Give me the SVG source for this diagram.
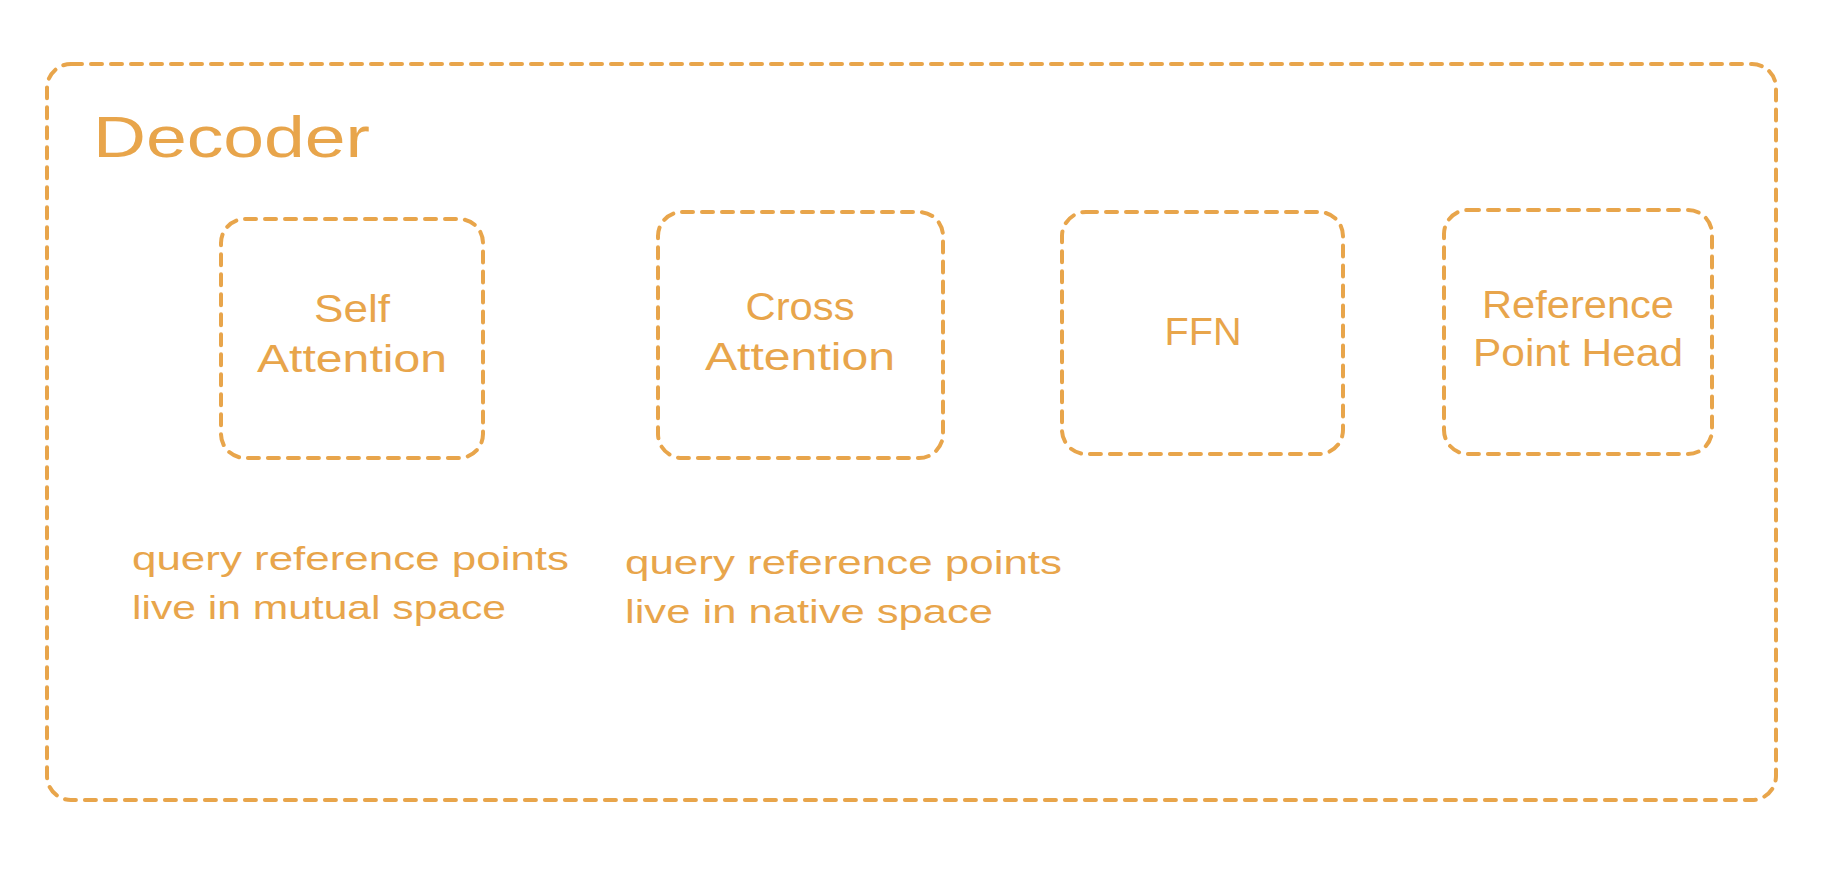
<svg xmlns="http://www.w3.org/2000/svg" width="1826" height="880" viewBox="0 0 1826 880">
<style>
.b{fill:none;stroke:#e8a54b;stroke-width:4;stroke-dasharray:11 9;stroke-linecap:round}
text{fill:#e8a54b;font-family:"Liberation Sans",sans-serif;font-size:34px}
.c{text-anchor:middle;font-size:38px}
</style>
<rect width="1826" height="880" fill="#fff"/>
<g id="decoder">
<rect class="b" x="47" y="64" width="1729" height="736" rx="24"/>
<text x="93" y="157" style="font-size:58px" textLength="277" lengthAdjust="spacingAndGlyphs">Decoder</text>
</g>
<g id="self-attention">
<rect class="b" x="221" y="219" width="262" height="239" rx="24"/>
<text class="c" x="352" y="322" textLength="76" lengthAdjust="spacingAndGlyphs">Self</text>
<text class="c" x="352" y="372" textLength="190" lengthAdjust="spacingAndGlyphs">Attention</text>
</g>
<g id="cross-attention">
<rect class="b" x="658" y="212" width="285" height="246" rx="24"/>
<text class="c" x="800" y="320" textLength="109" lengthAdjust="spacingAndGlyphs">Cross</text>
<text class="c" x="800" y="370" textLength="190" lengthAdjust="spacingAndGlyphs">Attention</text>
</g>
<g id="ffn">
<rect class="b" x="1062" y="212" width="281" height="242" rx="24"/>
<text class="c" x="1203" y="345" textLength="77" lengthAdjust="spacingAndGlyphs">FFN</text>
</g>
<g id="reference-point-head">
<rect class="b" x="1444" y="210" width="268" height="244" rx="24"/>
<text class="c" x="1578" y="318" textLength="192" lengthAdjust="spacingAndGlyphs">Reference</text>
<text class="c" x="1578" y="366" textLength="210" lengthAdjust="spacingAndGlyphs">Point Head</text>
</g>
<g id="notes">
<text x="132" y="570" textLength="437" lengthAdjust="spacingAndGlyphs">query reference points</text>
<text x="132" y="619" textLength="374" lengthAdjust="spacingAndGlyphs">live in mutual space</text>
<text x="625" y="574" textLength="437" lengthAdjust="spacingAndGlyphs">query reference points</text>
<text x="625" y="623" textLength="368" lengthAdjust="spacingAndGlyphs">live in native space</text>
</g>
<g id="connectors"/>
</svg>
